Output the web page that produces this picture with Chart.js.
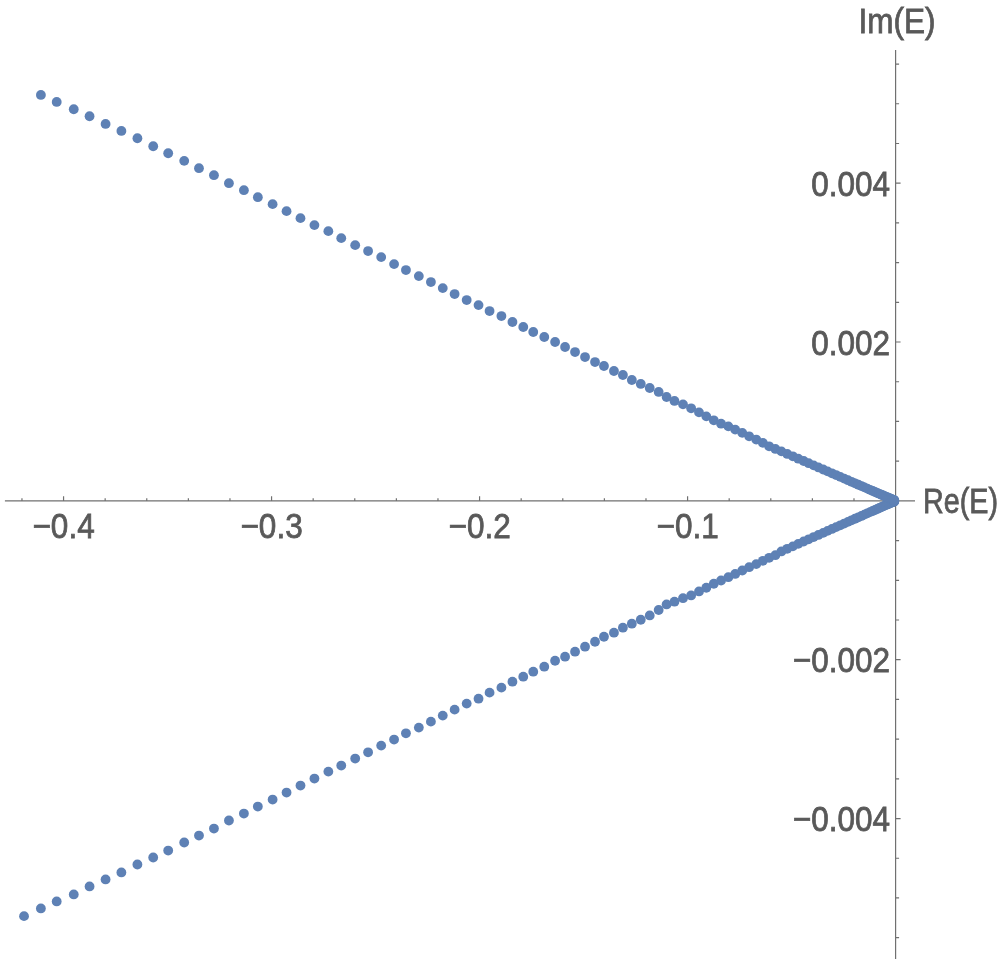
<!DOCTYPE html>
<html>
<head>
<meta charset="utf-8">
<title>Re(E) / Im(E)</title>
<script src="https://cdn.jsdelivr.net/npm/chart.js@4.4.0/dist/chart.umd.min.js"></script>
<style>
  html, body { margin: 0; padding: 0; background: #fff; }
  canvas { display: block; }
</style>
</head>
<body>
<canvas id="canvas-1" width="1000" height="964"></canvas>
<script>
// gornja grana (Im > 0)
const reUpper = [
  -0.4109, -0.4033, -0.3951, -0.3875, -0.3798, -0.3722, -0.3645, -0.3569, -0.3497, -0.3420,
  -0.3349, -0.3277, -0.3205, -0.3133, -0.3066, -0.2995, -0.2928, -0.2861, -0.2794, -0.2727,
  -0.2665, -0.2598, -0.2536, -0.2473, -0.2411, -0.2354, -0.2292, -0.2234, -0.2177, -0.2120,
  -0.2062, -0.2005, -0.1952, -0.1895, -0.1842, -0.1790, -0.1742, -0.1689, -0.1637, -0.1589,
  -0.1541, -0.1493, -0.1445, -0.1402, -0.1354, -0.1311, -0.1268, -0.1225, -0.1182, -0.1139,
  -0.1101, -0.1063, -0.1022, -0.0983, -0.0945, -0.0910, -0.0874, -0.0839, -0.0804, -0.0771,
  -0.0737, -0.0704, -0.0670, -0.0638, -0.0608, -0.0578,
  -0.0549, -0.0521, -0.0494, -0.0468, -0.0442, -0.0418, -0.0394, -0.0371, -0.0348, -0.0327,
  -0.0306, -0.0286, -0.0266, -0.0247, -0.0229, -0.0212, -0.0195, -0.0179, -0.0164, -0.0150,
  -0.0136, -0.0123, -0.0110, -0.0099, -0.0088, -0.0078, -0.0068, -0.0060, -0.0052, -0.0044,
  -0.0038, -0.0032, -0.0027, -0.0022, -0.0018, -0.0014, -0.0011, -0.0009, -0.0007, -0.0006
];
const imUpper = [
  0.005111, 0.005023, 0.004931, 0.004843, 0.004746, 0.004658, 0.004566, 0.004465, 0.004377, 0.004281,
  0.004189, 0.004101, 0.004000, 0.003912, 0.003824, 0.003736, 0.003648, 0.003560, 0.003472, 0.003396,
  0.003308, 0.003220, 0.003145, 0.003069, 0.002981, 0.002906, 0.002830, 0.002755, 0.002679, 0.002604,
  0.002528, 0.002465, 0.002390, 0.002327, 0.002252, 0.002189, 0.002126, 0.002063, 0.002000, 0.001937,
  0.001874, 0.001811, 0.001748, 0.001698, 0.001635, 0.001585, 0.001522, 0.001472, 0.001421, 0.001371,
  0.001308, 0.001258, 0.001215, 0.001165, 0.001114, 0.001064, 0.001014, 0.000972, 0.000938, 0.000897,
  0.000856, 0.000813, 0.000772, 0.000730, 0.000687, 0.000654,
  0.000623, 0.000591, 0.000561, 0.000531, 0.000502, 0.000474, 0.000447, 0.000421, 0.000395, 0.000371,
  0.000347, 0.000325, 0.000302, 0.000280, 0.000260, 0.000240, 0.000221, 0.000203, 0.000186, 0.000170,
  0.000154, 0.000139, 0.000125, 0.000112, 0.000100, 0.000088, 0.000077, 0.000068, 0.000059, 0.000050,
  0.000043, 0.000036, 0.000031, 0.000025, 0.000020, 0.000016, 0.000012, 0.000010, 0.000008, 0.000007
];

// donja grana (Im < 0), ima jednu tacku vise lijevo
const reLower = [
  -0.4190,
  -0.4109, -0.4033, -0.3951, -0.3875, -0.3798, -0.3722, -0.3645, -0.3569, -0.3497, -0.3420,
  -0.3349, -0.3277, -0.3205, -0.3133, -0.3066, -0.2995, -0.2928, -0.2861, -0.2794, -0.2727,
  -0.2665, -0.2598, -0.2536, -0.2473, -0.2411, -0.2354, -0.2292, -0.2234, -0.2177, -0.2120,
  -0.2062, -0.2005, -0.1952, -0.1895, -0.1842, -0.1790, -0.1742, -0.1689, -0.1637, -0.1589,
  -0.1541, -0.1493, -0.1445, -0.1402, -0.1354, -0.1311, -0.1268, -0.1225, -0.1182, -0.1139,
  -0.1101, -0.1063, -0.1022, -0.0983, -0.0945, -0.0910, -0.0874, -0.0839, -0.0804, -0.0771,
  -0.0737, -0.0704, -0.0670, -0.0638, -0.0608, -0.0578,
  -0.0549, -0.0521, -0.0494, -0.0468, -0.0442, -0.0418, -0.0394, -0.0371, -0.0348, -0.0327,
  -0.0306, -0.0286, -0.0266, -0.0247, -0.0229, -0.0212, -0.0195, -0.0179, -0.0164, -0.0150,
  -0.0136, -0.0123, -0.0110, -0.0099, -0.0088, -0.0078, -0.0068, -0.0060, -0.0052, -0.0044,
  -0.0038, -0.0032, -0.0027, -0.0022, -0.0018, -0.0014, -0.0011, -0.0009, -0.0007, -0.0006
];
const imLower = [
  -0.005229,
  -0.005132, -0.005044, -0.004956, -0.004855, -0.004767, -0.004679, -0.004579, -0.004491, -0.004403, -0.004302,
  -0.004214, -0.004126, -0.004025, -0.003937, -0.003849, -0.003761, -0.003673, -0.003585, -0.003497, -0.003409,
  -0.003333, -0.003245, -0.003166, -0.003082, -0.003006, -0.002927, -0.002855, -0.002780, -0.002704, -0.002629,
  -0.002553, -0.002491, -0.002415, -0.002352, -0.002277, -0.002214, -0.002151, -0.002088, -0.002013, -0.001962,
  -0.001899, -0.001836, -0.001774, -0.001711, -0.001660, -0.001597, -0.001547, -0.001497, -0.001443, -0.001374,
  -0.001304, -0.001270, -0.001226, -0.001191, -0.001141, -0.001094, -0.001044, -0.001003, -0.000961, -0.000920,
  -0.000877, -0.000835, -0.000797, -0.000755, -0.000717, -0.000684,
  -0.000637, -0.000604, -0.000573, -0.000542, -0.000512, -0.000484, -0.000456, -0.000429, -0.000403, -0.000378,
  -0.000354, -0.000331, -0.000308, -0.000286, -0.000265, -0.000245, -0.000225, -0.000207, -0.000190, -0.000173,
  -0.000157, -0.000142, -0.000128, -0.000114, -0.000102, -0.000090, -0.000079, -0.000069, -0.000060, -0.000051,
  -0.000044, -0.000037, -0.000031, -0.000025, -0.000020, -0.000016, -0.000012, -0.000010, -0.000008, -0.000007
];

// oznake na osama
const xTicks = [-0.4, -0.3, -0.2, -0.1];
const xTickLabels = ['\u22120.4', '\u22120.3', '\u22120.2', '\u22120.1'];
const yTicks = [0.004, 0.002, -0.002, -0.004];
const yTickLabels = ['0.004', '0.002', '\u22120.002', '\u22120.004'];

const boja = '#5e81b5';
const sivaTekst = '#595959';
const sivaOsa = '#707070';

function tekst(ctx, s, x, y, align, sirina) {
  ctx.save();
  ctx.translate(x, y);
  ctx.scale(sirina || 0.9, 1); // uzi font, kao Gill Sans
  ctx.textAlign = align;
  ctx.textBaseline = 'alphabetic';
  ctx.fillText(s, 0, 0);
  ctx.strokeText(s, 0, 0); // malo deblje slovo
  ctx.restore();
}

// ose kroz nulu, kao u Mathematici
const osePlugin = {
  id: 'ose',
  beforeDatasetsDraw(chart) {
    const ctx = chart.ctx;
    const sx = chart.scales.x;
    const sy = chart.scales.y;
    const area = chart.chartArea;
    const x0 = sx.getPixelForValue(0);
    const y0 = sy.getPixelForValue(0);

    ctx.save();
    ctx.strokeStyle = sivaOsa;
    ctx.lineWidth = 1.2;
    ctx.beginPath();
    ctx.moveTo(area.left, y0);
    ctx.lineTo(area.right, y0);
    ctx.moveTo(x0, area.top);
    ctx.lineTo(x0, area.bottom);

    // crtice na x osi (svakih 0.02)
    for (let i = -21; i <= -1; i++) {
      const px = sx.getPixelForValue(i * 0.02);
      const len = (i % 5 === 0) ? 4.5 : 2.5;
      ctx.moveTo(px, y0);
      ctx.lineTo(px, y0 - len);
    }
    // crtice na y osi (svakih 0.0005)
    for (let i = -11; i <= 11; i++) {
      if (i === 0) continue;
      const py = sy.getPixelForValue(i * 0.0005);
      const len = (i % 4 === 0) ? 5 : 3.5;
      ctx.moveTo(x0, py);
      ctx.lineTo(x0 + len, py);
    }
    ctx.stroke();

    ctx.fillStyle = sivaTekst;
    ctx.strokeStyle = sivaTekst;
    ctx.lineWidth = 0.8;
    ctx.font = '35px "Liberation Sans", Arial, sans-serif';
    for (let i = 0; i < xTicks.length; i++) {
      tekst(ctx, xTickLabels[i], sx.getPixelForValue(xTicks[i]), y0 + 37, 'center');
    }
    for (let i = 0; i < yTicks.length; i++) {
      tekst(ctx, yTickLabels[i], x0 - 5.5, sy.getPixelForValue(yTicks[i]) + 12.5, 'right');
    }
    tekst(ctx, 'Im(E)', x0 + 1.5, area.top - 17, 'center');
    tekst(ctx, 'Re(E)', area.right + 8, y0 + 12.5, 'left', 0.82);
    ctx.restore();
  }
};

const gornja = reUpper.map((v, i) => ({ x: v, y: imUpper[i] }));
const donja = reLower.map((v, i) => ({ x: v, y: imLower[i] }));

const grafik = new Chart(document.getElementById('canvas-1'), {
  type: 'scatter',
  data: {
    datasets: [{
      label: 'Im(E) > 0',
      data: gornja,
      backgroundColor: boja,
      borderWidth: 0,
      pointRadius: 4.9
    }, {
      label: 'Im(E) < 0',
      data: donja,
      backgroundColor: boja,
      borderWidth: 0,
      pointRadius: 4.9
    }]
  },
  options: {
    responsive: false,
    animation: false,
    devicePixelRatio: 1,
    layout: {
      padding: { left: 0, right: 85, top: 50, bottom: 4 }
    },
    plugins: {
      legend: { display: false },
      tooltip: { enabled: false }
    },
    scales: {
      x: { type: 'linear', min: -0.4282, max: 0.00933, display: false },
      y: { type: 'linear', min: -0.00577, max: 0.005677, display: false }
    }
  },
  plugins: [osePlugin]
});
</script>
</body>
</html>
